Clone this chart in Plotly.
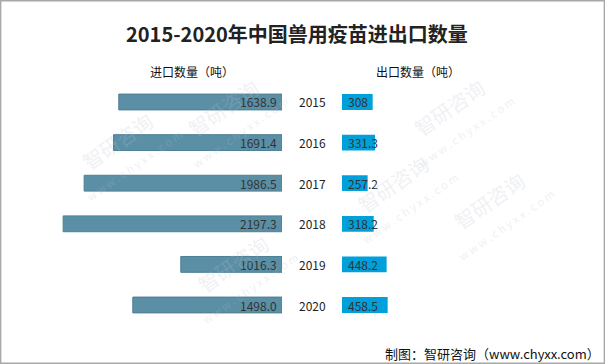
import plotly.graph_objects as go

years = ["2015", "2016", "2017", "2018", "2019", "2020"]
imports = [1638.9, 1691.4, 1986.5, 2197.3, 1016.3, 1498.0]
exports = [308, 331.3, 257.2, 318.2, 448.2, 458.5]
import_labels = ["1638.9", "1691.4", "1986.5", "2197.3", "1016.3", "1498.0"]
export_labels = ["308", "331.3", "257.2", "318.2", "448.2", "458.5"]

W, H = 605, 364
FONT = "Noto Sans CJK SC"
IMP_COLOR = "#5b8fa6"
EXP_COLOR = "#00a0da"

fig = go.Figure()
fig.add_trace(go.Bar(
    y=years, x=imports, orientation="h", xaxis="x", yaxis="y",
    marker=dict(color=IMP_COLOR, line=dict(color="#4d7f95", width=1)),
    width=0.39, hoverinfo="x+y", showlegend=False,
))
fig.add_trace(go.Bar(
    y=years, x=exports, orientation="h", xaxis="x2", yaxis="y",
    marker=dict(color=EXP_COLOR, line=dict(width=0)),
    width=0.39, hoverinfo="x+y", showlegend=False,
))

annotations = []
for i, lab in enumerate(import_labels):
    annotations.append(dict(x=0, y=i, xref="x", yref="y", text=lab, showarrow=False,
                            xanchor="right", xshift=-3, font=dict(family=FONT, size=12, color="#333333")))
for i, lab in enumerate(export_labels):
    annotations.append(dict(x=0, y=i, xref="x2", yref="y", text=lab, showarrow=False,
                            xanchor="left", xshift=4, font=dict(family=FONT, size=12, color="#333333")))
for i, yr in enumerate(years):
    annotations.append(dict(x=312 / W, y=i, xref="paper", yref="y", text=yr, showarrow=False,
                            xanchor="center", font=dict(family=FONT, size=12, color="#222222")))

annotations += [
    dict(x=297 / W, y=1 - 33 / H, xref="paper", yref="paper", text="<b>2015-2020年中国兽用疫苗进出口数量</b>",
         showarrow=False, xanchor="center", yanchor="middle", font=dict(family=FONT, size=20, color="#222222")),
    dict(x=192 / W, y=1 - 72 / H, xref="paper", yref="paper", text="进口数量（吨）",
         showarrow=False, xanchor="center", yanchor="middle", font=dict(family=FONT, size=12, color="#111111")),
    dict(x=418 / W, y=1 - 72 / H, xref="paper", yref="paper", text="出口数量（吨）",
         showarrow=False, xanchor="center", yanchor="middle", font=dict(family=FONT, size=12, color="#111111")),
    dict(x=602 / W, y=1 - 353 / H, xref="paper", yref="paper", text="制图：智研咨询（www.chyxx.com）",
         showarrow=False, xanchor="right", yanchor="middle", font=dict(family=FONT, size=13, color="#111111")),
]

# faint watermarks
wm = [(60, 150), (230, 60), (520, 60), (560, 210), (240, 330), (400, 250)]
for (wx, wy) in wm:
    annotations.append(dict(x=wx / W, y=1 - wy / H, xref="paper", yref="paper",
                            text="智研咨询<br><span style='font-size:11px'>w w w . c h y x x . c o m</span>",
                            showarrow=False, textangle=-35, opacity=0.22,
                            font=dict(family=FONT, size=20, color="#b9c3cf")))

pxs = 0.0996
fig.update_layout(
    width=W, height=H, margin=dict(l=0, r=0, t=0, b=0),
    paper_bgcolor="white", plot_bgcolor="rgba(0,0,0,0)",
    xaxis=dict(domain=[0, 282 / W], range=[282 / pxs, 0], visible=False, fixedrange=True),
    xaxis2=dict(domain=[342 / W, 1], range=[0, 263 / pxs], visible=False, fixedrange=True),
    yaxis=dict(type="category", domain=[1 - 325.3 / H, 1 - 81.7 / H], categoryorder="array",
               categoryarray=years, range=[5.5, -0.5], visible=False, fixedrange=True),
    annotations=annotations,
    shapes=[dict(type="rect", xref="paper", yref="paper", x0=0.001, y0=0.002, x1=0.999, y1=0.998,
                 line=dict(color="#a8a8a8", width=1.5))],
    barmode="overlay",
)

fig.write_html("out.html", config={"displayModeBar": False},
               post_script="document.body.style.margin='0';document.body.style.padding='0';document.body.style.overflow='hidden';")
